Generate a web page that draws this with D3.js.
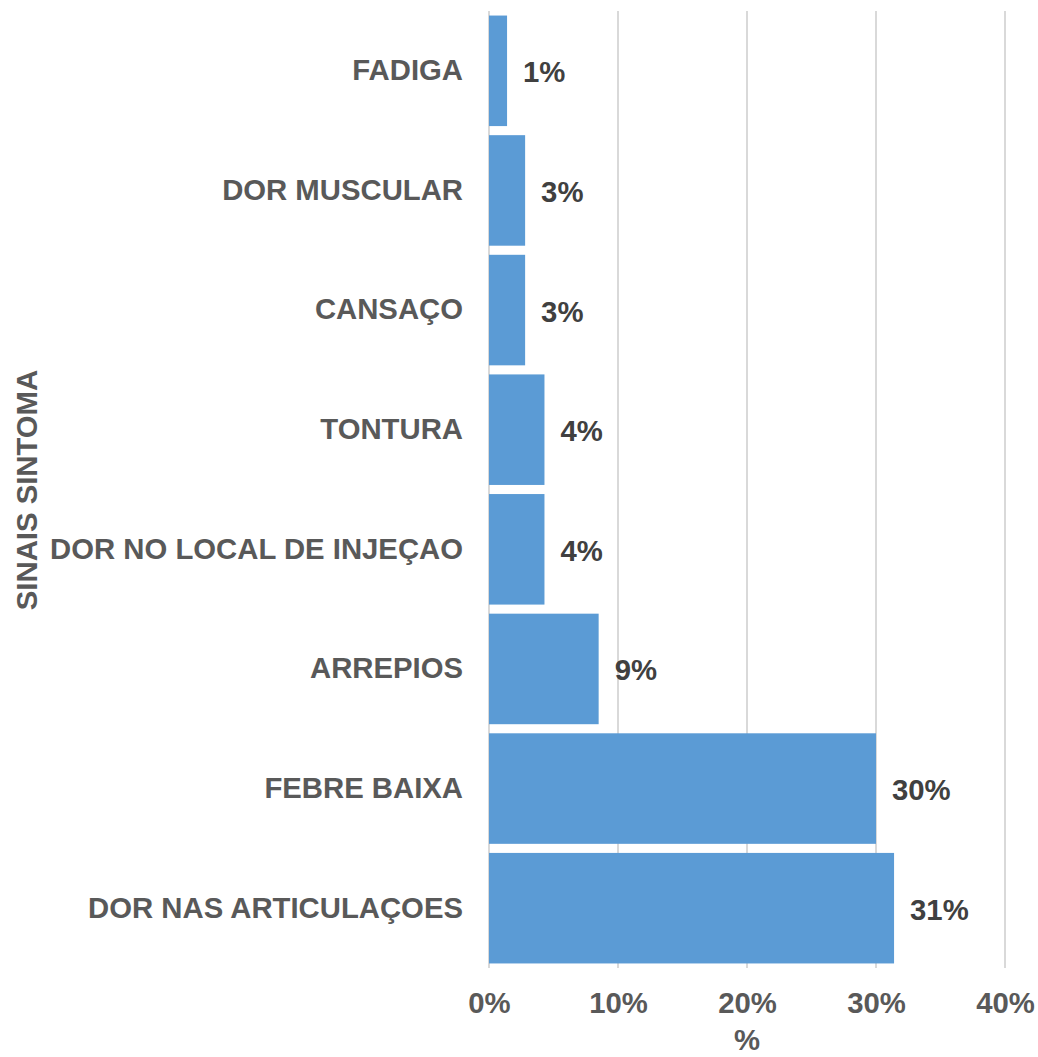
<!DOCTYPE html>
<html>
<head>
<meta charset="utf-8">
<script src="https://cdn.jsdelivr.net/npm/d3@7"></script>
<style>
  body { margin: 0; background: white; }
</style>
</head>
<body>
<div id="container"></div>
<script>
// data
let categories = ["FADIGA", "DOR MUSCULAR", "CANSAÇO", "TONTURA", "DOR NO LOCAL DE INJEÇAO", "ARREPIOS", "FEBRE BAIXA", "DOR NAS ARTICULAÇOES"];
let values = [1.4, 2.8, 2.8, 4.3, 4.3, 8.5, 30.0, 31.4];
let ticks = [0, 10, 20, 30, 40];

let w = 1038;
let h = 1057;
let plotLeft = 489;
let plotRight = 1005;
let plotTop = 11;
let plotBottom = 968;
let font = "'Liberation Sans', Arial, sans-serif";
let fontSize = 29.3;

let data = categories.map(function(c, i){ return {cat: c, val: values[i]}; });

let viz = d3.select("#container")
  .append("svg")
    .attr("width", w)
    .attr("height", h)
    .style("background-color", "white")
;

let xScale = d3.scaleLinear().domain([0, 40]).range([plotLeft, plotRight]);
let yScale = d3.scaleBand().domain(categories).range([plotTop, plotBottom]).paddingInner(0.076).paddingOuter(0.038);

// gridlines
viz.append("g").selectAll("line").data(ticks).enter().append("line")
    .attr("x1", function(d){ return xScale(d); })
    .attr("x2", function(d){ return xScale(d); })
    .attr("y1", plotTop)
    .attr("y2", plotBottom)
    .attr("stroke", "#d9d9d9")
    .attr("stroke-width", 2)
;

// bars
viz.append("g").selectAll("rect").data(data).enter().append("rect")
    .attr("x", xScale(0))
    .attr("y", function(d){ return yScale(d.cat); })
    .attr("width", function(d){ return xScale(d.val) - xScale(0); })
    .attr("height", yScale.bandwidth())
    .attr("fill", "#5b9bd5")
;

// value labels
viz.append("g").selectAll("text").data(data).enter().append("text")
    .text(function(d){ return Math.round(d.val) + "%"; })
    .attr("x", function(d){ return xScale(d.val) + 16; })
    .attr("y", function(d){ return yScale(d.cat) + yScale.bandwidth()/2 + 1; })
    .attr("dominant-baseline", "central")
    .attr("font-family", font)
    .attr("font-weight", "bold")
    .attr("font-size", fontSize)
    .attr("fill", "#404040")
;

// y axis (category labels)
let yAxisGroup = viz.append("g").attr("class", "yaxis")
    .attr("transform", "translate(" + plotLeft + ", 0)")
    .call(d3.axisLeft(yScale).tickSize(0).tickPadding(26));
yAxisGroup.select(".domain").remove();
yAxisGroup.selectAll("text")
    .attr("font-family", font)
    .attr("font-weight", "bold")
    .attr("font-size", fontSize)
    .attr("fill", "#595959")
;

// x axis
let xAxisGroup = viz.append("g").attr("class", "xaxis")
    .attr("transform", "translate(0, " + plotBottom + ")")
    .call(d3.axisBottom(xScale).tickValues(ticks).tickSize(0).tickPadding(24).tickFormat(function(d){ return d + "%"; }));
xAxisGroup.select(".domain").remove();
xAxisGroup.selectAll("text")
    .attr("font-family", font)
    .attr("font-weight", "bold")
    .attr("font-size", fontSize)
    .attr("fill", "#595959")
;

// axis titles
viz.append("text")
    .text("%")
    .attr("x", (plotLeft + plotRight) / 2)
    .attr("y", 1050)
    .attr("text-anchor", "middle")
    .attr("font-family", font)
    .attr("font-weight", "bold")
    .attr("font-size", fontSize)
    .attr("fill", "#595959")
;

viz.append("text")
    .text("SINAIS SINTOMA")
    .attr("transform", "translate(37, 490) rotate(-90)")
    .attr("text-anchor", "middle")
    .attr("font-family", font)
    .attr("font-weight", "bold")
    .attr("font-size", fontSize)
    .attr("fill", "#595959")
;
</script>
</body>
</html>
